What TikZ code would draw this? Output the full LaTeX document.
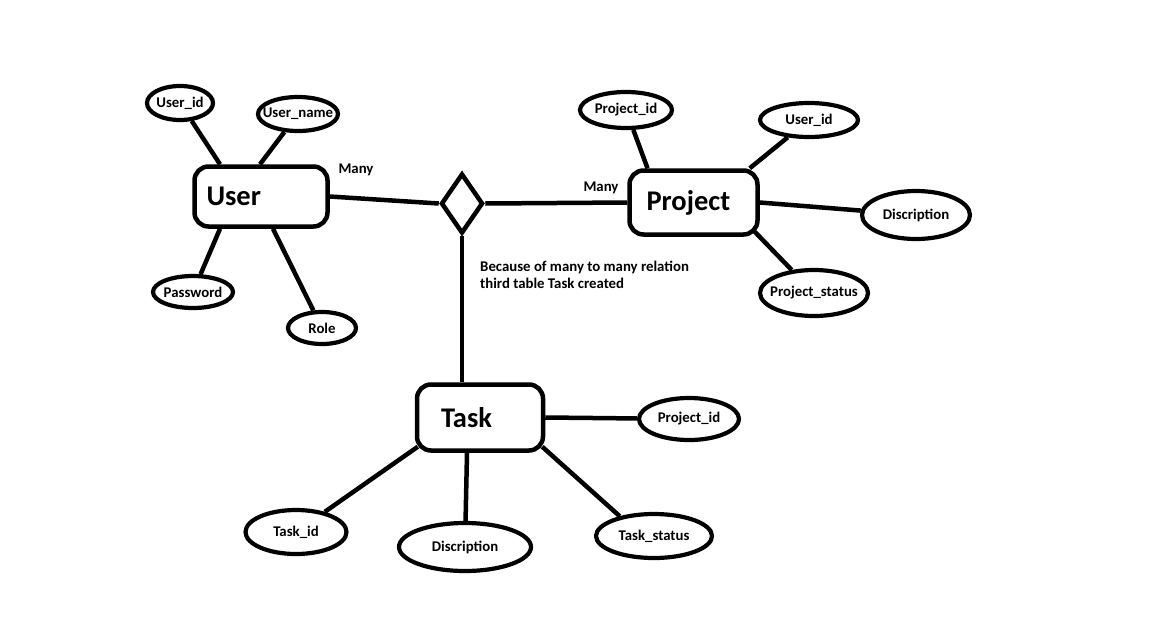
\documentclass[tikz,border=0pt]{standalone}
\usepackage{fontspec}
\setmainfont{Carlito}
\usetikzlibrary{shapes.geometric}
\newcommand{\nb}[1]{\makebox[0pt][c]{#1}}
\begin{document}
\begin{tikzpicture}[x=1pt,y=-1pt,
 ln/.style={line width=4.5pt},
 entity/.style={draw, line width=4.5pt, rounded corners=14pt, font=\fontsize{28.5}{30}\selectfont\bfseries, align=left, inner ysep=0pt},
 attr/.style={draw, ellipse, line width=4.2pt, inner sep=0pt, font=\fontsize{14.8}{16}\selectfont\bfseries},
 lbl/.style={font=\fontsize{14.8}{17}\selectfont\bfseries, inner sep=0pt},
 rel/.style={draw, diamond, line width=4.5pt, inner sep=0pt, minimum width=42pt, minimum height=60pt}]
\fill[white] (0,0) rectangle (1167,640);
\useasboundingbox (0,0) rectangle (1167,640);

% entities
\node[entity, inner xsep=12pt, text width=109pt, minimum height=60pt] (user) at (261,196.5) {User};
\node[entity, inner xsep=17pt, text width=94pt, minimum height=64pt] (proj) at (693.5,202.5) {Project};
\node[entity, inner xsep=24pt, text width=78pt, minimum height=66pt] (task) at (480,417.5) {Task};

% relationship
\node[rel] (dia) at (462,203.5) {};

% user attributes
\node[attr, minimum width=66pt, minimum height=34pt] (uid) at (180,103) {\nb{User\_id}};
\node[attr, minimum width=80pt, minimum height=34pt] (uname) at (298,114) {\nb{User\_name}};
\node[attr, minimum width=80pt, minimum height=32pt] (pw) at (193,292) {\nb{Password}};
\node[attr, minimum width=68pt, minimum height=32pt] (role) at (322,328) {\nb{Role}};

% project attributes
\node[attr, minimum width=92pt, minimum height=36pt] (pid) at (626,110) {\nb{Project\_id}};
\node[attr, minimum width=98pt, minimum height=34pt] (puid) at (809,120) {\nb{User\_id}};
\node[attr, minimum width=108pt, minimum height=48pt] (pdesc) at (916,215) {\nb{Discription}};
\node[attr, minimum width=108pt, minimum height=46pt] (pst) at (814,293) {\nb{Project\_status}};

% task attributes
\node[attr, minimum width=100pt, minimum height=42pt] (tpid) at (689,419) {\nb{Project\_id}};
\node[attr, minimum width=101pt, minimum height=44pt] (tid) at (296,532) {\nb{Task\_id}};
\node[attr, minimum width=132pt, minimum height=48pt] (tdesc) at (465,547) {\nb{Discription}};
\node[attr, minimum width=116pt, minimum height=44pt] (tst) at (654,536) {\nb{Task\_status}};

% labels
\node[lbl] (many1) at (356,170) {Many};
\node[lbl] (many2) at (601,188) {Many};
\node[lbl, anchor=west, align=left] (note) at (480,274.5) {Because of many to many relation\\third table Task created};

% connectors
\draw[ln] (user.east) -- (dia.west);
\draw[ln] (dia.east) -- (proj.west);
\draw[ln] (dia.south) -- (dia.south |- task.north);

\draw[ln] (uid) -- ([xshift=-41pt]user.north);
\draw[ln] (uname) -- ([xshift=-1pt]user.north);
\draw[ln] ([xshift=-41pt]user.south) -- (pw);
\draw[ln] ([xshift=12pt]user.south) -- (role);

\draw[ln] (pid) -- ([xshift=-46pt]proj.north);
\draw[ln] (puid) -- ([xshift=-10pt]proj.north east);
\draw[ln] (proj.east) -- (pdesc);
\draw[ln] ([xshift=-5pt,yshift=5pt]proj.south east) -- (pst);

\draw[ln] (task.east) -- (tpid);
\draw[ln] ([xshift=3pt,yshift=6pt]task.south west) -- (tid);
\draw[ln] ([xshift=-13pt]task.south) -- (tdesc);
\draw[ln] ([xshift=-3pt,yshift=6pt]task.south east) -- (tst.150);
\end{tikzpicture}
\end{document}
